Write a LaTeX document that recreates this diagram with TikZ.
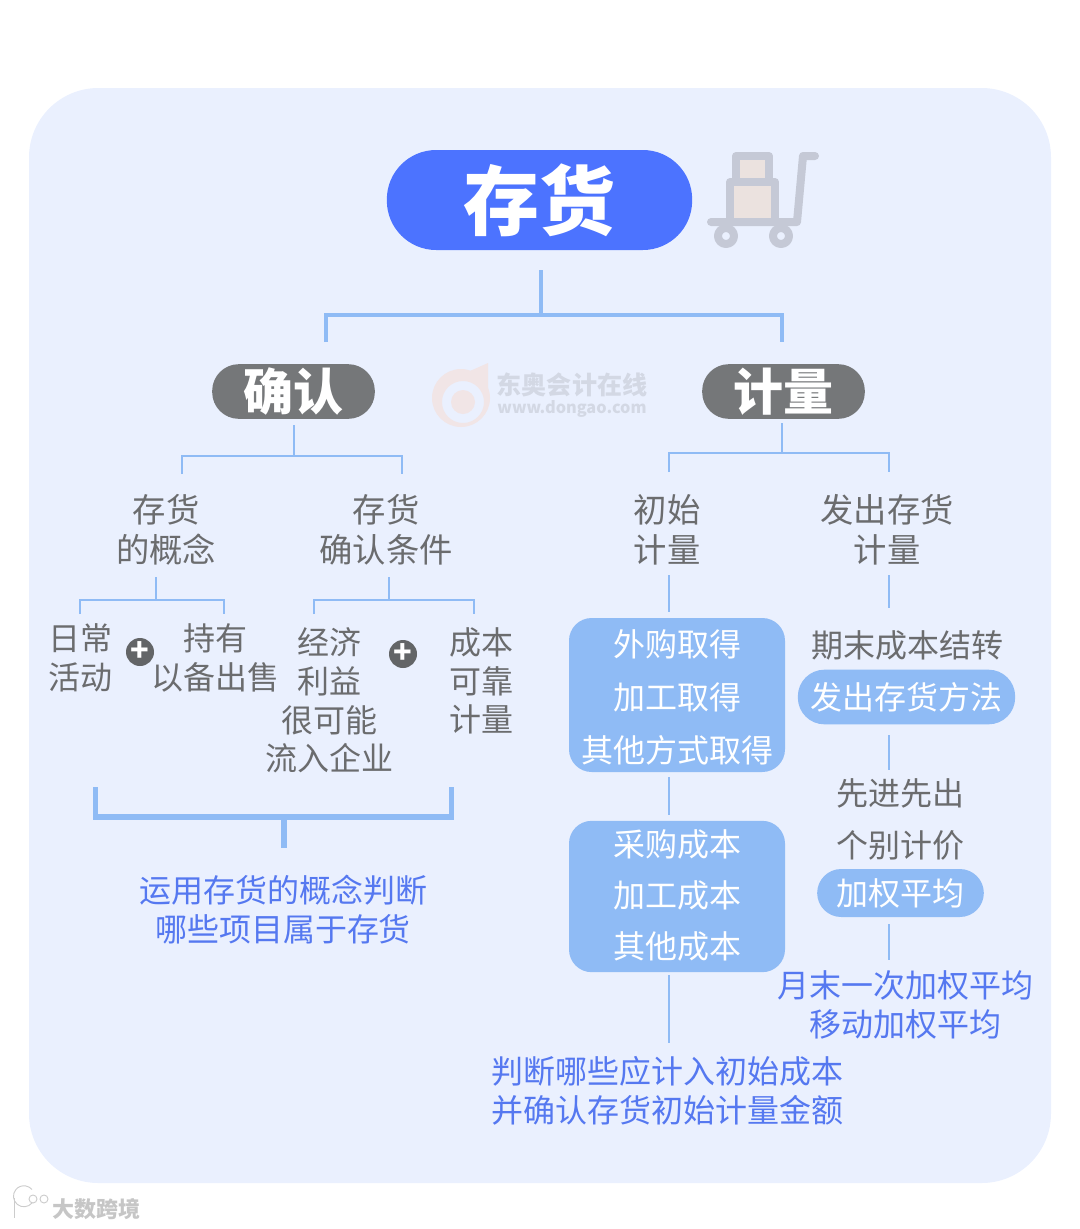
\documentclass[tikz,border=0pt]{standalone}
\usepackage{fontspec}
\setmainfont{Noto Sans CJK SC}
\usepackage{tikz}
\usetikzlibrary{positioning}

\definecolor{panelbg}{HTML}{EAF0FE}
\definecolor{rootblue}{HTML}{4C73FF}
\definecolor{linkblue}{HTML}{8FBBF5}
\definecolor{headgray}{HTML}{757779}
\definecolor{wordgray}{HTML}{6B6C6E}
\definecolor{noteblue}{HTML}{5578F0}
\definecolor{cartgray}{HTML}{C5C9D6}
\definecolor{cartbox}{HTML}{EBE2DF}
\definecolor{markgray}{HTML}{D3D8E4}
\definecolor{markred}{HTML}{F1E5E6}

\begin{document}
\begin{tikzpicture}[
  x=0.75pt, y=-0.75pt,
  root/.style={fill=rootblue, text=white, rounded corners=37pt, minimum width=229pt, minimum height=75pt, inner sep=0pt, font=\fontsize{57}{60}\selectfont\bfseries},
  head/.style={fill=headgray, text=white, rounded corners=20pt, minimum width=122pt, minimum height=41pt, inner sep=0pt, font=\fontsize{37.5}{40}\selectfont\bfseries},
  word/.style={text=wordgray, inner sep=0pt, align=center, font=\fontsize{24}{29}\selectfont},
  topic/.style={word, font=\fontsize{25}{30}\selectfont},
  note/.style={word, text=noteblue},
  row/.style={word, text=white, text height=18pt, text depth=3pt},
  tile/.style={fill=linkblue, rounded corners=17pt, minimum width=162pt},
  pill/.style={fill=linkblue, text=white, inner sep=0pt, font=\fontsize{24}{29}\selectfont},
  plus/.style={circle, fill=headgray!85!black, text=white, minimum size=21pt, inner sep=0pt, font=\fontsize{23}{23}\selectfont\bfseries},
  link/.style={draw=linkblue, line width=2pt},
  wide/.style={draw=linkblue, line width=3.2pt},
  heavy/.style={draw=linkblue, line width=3.8pt},
  cart/.style={draw=cartgray, line width=6pt, line cap=round, line join=round}
]
  \useasboundingbox (0,0) rectangle (1080,1229);
  \fill[panelbg, rounded corners=52pt] (29,88) rectangle (1051,1183);

  % watermark
  \fill[markred, even odd rule] (461,398) circle[radius=29] (463,402) circle[radius=21];
  \fill[markred] (463,402) circle[radius=12];
  \fill[markred] (470,371) -- (488,363) -- (488,398) -- cycle;
  \node[text=markgray, inner sep=0pt, font=\fontsize{18.8}{20}\selectfont\bfseries] (markname) at (572,385) {东奥会计在线};
  \node[text=markgray, inner sep=0pt, font=\fontsize{12.2}{13}\selectfont\bfseries] (markweb) at (572,409) {www.dongao.com};

  % boxes
  \node[root] (stock) at (539.5,200) {存货};
  \node[head] (confirm) at (293.5,391.5) {确认};
  \node[head] (measure) at (783.5,391.5) {计量};

  % cart
  \draw[cart, fill=cartbox] (736,156) rectangle (769,182);
  \draw[cart, fill=cartbox] (730,182) rectangle (775,222);
  \draw[cart] (711,222) -- (797,222) -- (803,156) -- (815,156);
  \foreach \wx in {726,781}
    \draw[cart, fill=panelbg] (\wx,236) circle[radius=8];

  % left side
  \node[topic] (concept) at (166,530) {存货\\的概念};
  \node[topic] (terms) at (386,530) {存货\\确认条件};
  \node[word] (daily) at (80,658) {日常\\活动};
  \node[plus] (plusa) at (140,652) {+};
  \node[word] (hold) at (215,658) {持有\\以备出售};
  \node[word] (benefit) at (329,700.5) {经济\\利益\\很可能\\流入企业};
  \node[plus] (plusb) at (403,654) {+};
  \node[word] (cost) at (481,681) {成本\\可靠\\计量};
  \node[note] (judge) at (283,909.5) {运用存货的概念判断\\哪些项目属于存货};

  % right side
  \node[topic] (initial) at (667,530) {初始\\计量};
  \node[topic] (issue) at (887,530) {发出存货\\计量};

  \node[tile, minimum height=115.5pt] (buybox) at (677,695) {};
  \node[row] (buy) at (677,646) {外购取得};
  \node[row, below=18.5pt of buy] (make) {加工取得};
  \node[row, below=18.5pt of make] (other) {其他方式取得};

  \node[tile, minimum height=113.5pt] (costbox) at (677,896.5) {};
  \node[row] (buycost) at (677,846) {采购成本};
  \node[row, below=17pt of buycost] (makecost) {加工成本};
  \node[row, below=17pt of makecost] (othercost) {其他成本};
  \node[note] (judgeb) at (667,1090.5) {判断哪些应计入初始成本\\并确认存货初始计量金额};

  \node[word] (carry) at (907,645) {期末成本结转};
  \node[pill, rounded corners=20pt, minimum width=163pt, minimum height=41pt] (method) at (906.5,697) {发出存货方法};
  \node[word] (fifo) at (900,793) {先进先出};
  \node[word] (single) at (900,845) {个别计价};
  \node[pill, rounded corners=18pt, minimum width=125pt, minimum height=36pt] (average) at (900.5,893) {加权平均};
  \node[note] (monthly) at (905,1005) {月末一次加权平均\\移动加权平均};

  % connector ends
  \foreach \cname/\cx/\cy in {
    stocka/541/270, stockb/541/315, conftop/326/342, meastop/782/342,
    confa/294/425, confb/294/456, conl/182/474, conr/402/474,
    measa/782/423, measb/782/453, inil/669/472, issr/889/472,
    cona/156/577, conb/156/600, dayl/80/614, holdr/224/614,
    tera/389/577, terb/389/600, benl/314/614, costr/474/614,
    brl/95.5/787, brr/451.5/787, bra/284/817, brb/284/848,
    inia/669/575, inib/669/612, issa/889/575, issb/889/608,
    boxa/669/777, boxb/669/815, boxc/669/975, boxd/669/1043,
    meta/889/735, metb/889/770, avga/889/924, avgb/889/960}
    \coordinate (\cname) at (\cx,\cy);

  % connectors
  \draw[wide] (stocka) -- (stockb);
  \draw[wide] (conftop) |- (stockb) -| (meastop);
  \draw[link] (confa) -- (confb);
  \draw[link] (conl) |- (confb) -| (conr);
  \draw[link] (measa) -- (measb);
  \draw[link] (inil) |- (measb) -| (issr);
  \draw[link] (cona) -- (conb);
  \draw[link] (dayl) |- (conb) -| (holdr);
  \draw[link] (tera) -- (terb);
  \draw[link] (benl) |- (terb) -| (costr);
  \draw[heavy] (brl) |- (bra) -| (brr);
  \draw[heavy] (bra) -- (brb);
  \draw[link] (inia) -- (inib);
  \draw[link] (issa) -- (issb);
  \draw[link] (boxa) -- (boxb);
  \draw[link] (boxc) -- (boxd);
  \draw[link] (meta) -- (metb);
  \draw[link] (avga) -- (avgb);

  % corner mark
  \begin{scope}[draw=gray!40, line width=0.7pt, double=white, double distance=1.2pt]
    \draw (14,1198) -- (14,1218);
    \draw (32,1203) arc[start angle=40, end angle=320, radius=10.5];
    \draw (33,1199) circle[radius=4];
    \draw (44,1199) circle[radius=4];
  \end{scope}
  \node[text=gray!45, inner sep=0pt, font=\fontsize{16.5}{18}\selectfont\bfseries] (bigdata) at (96,1209) {大数跨境};
\end{tikzpicture}
\end{document}
